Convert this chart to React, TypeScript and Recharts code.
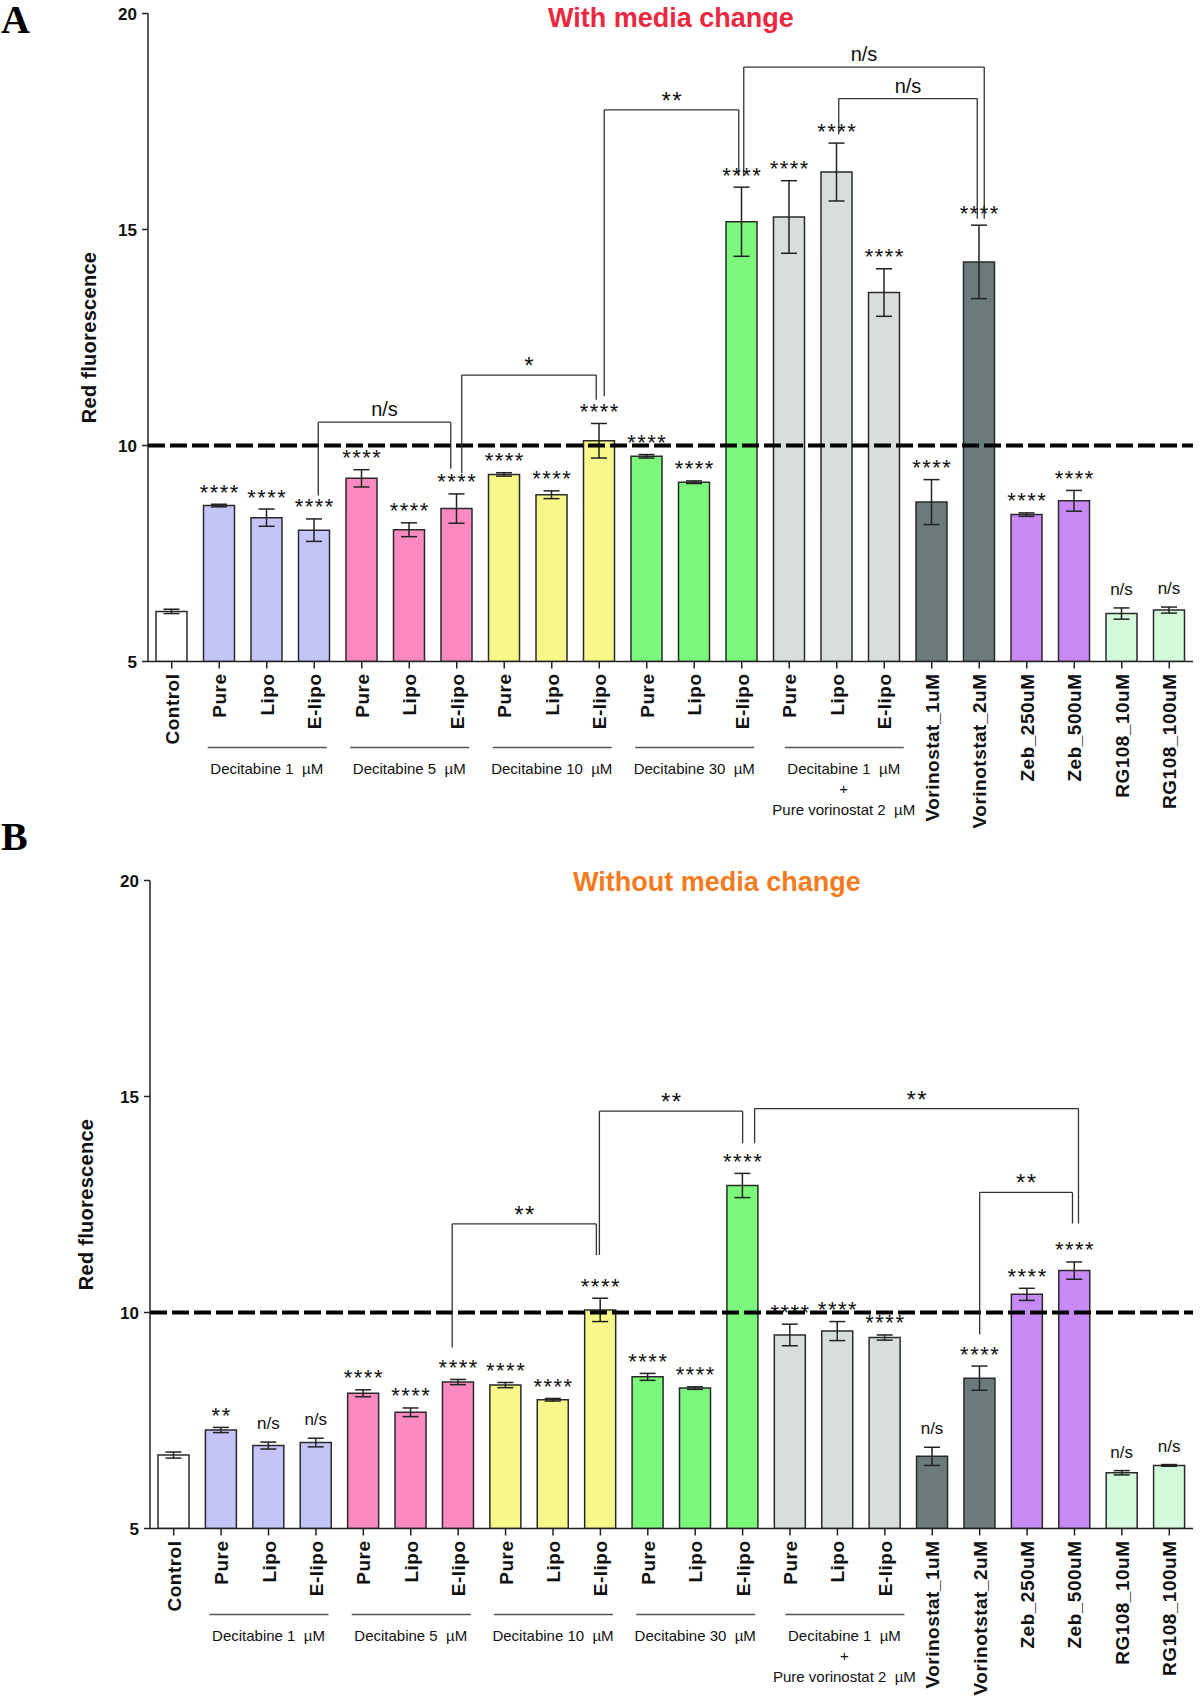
import React from 'react';
import { ComposedChart, Bar, Cell, ErrorBar, XAxis, YAxis, ReferenceLine, LabelList, Label } from 'recharts';

const FONT = "'Liberation Sans', Arial, Helvetica, sans-serif";

// x categories (22 bars)
const CATEGORIES = [
  'Control',
  'Pure', 'Lipo', 'E-lipo',
  'Pure', 'Lipo', 'E-lipo',
  'Pure', 'Lipo', 'E-lipo',
  'Pure', 'Lipo', 'E-lipo',
  'Pure', 'Lipo', 'E-lipo',
  'Vorinostat_1uM', 'Vorinotstat_2uM', 'Zeb_250uM', 'Zeb_500uM', 'RG108_10uM', 'RG108_100uM',
];
const KEYS = CATEGORIES.map((_, i) => `b${i}`);

const BAR_COLORS = [
  '#ffffff',
  '#c4c4f8', '#c4c4f8', '#c4c4f8',
  '#fa8abf', '#fa8abf', '#fa8abf',
  '#f8f88a', '#f8f88a', '#f8f88a',
  '#7cf97c', '#7cf97c', '#7cf97c',
  '#d7dedd', '#d7dedd', '#d7dedd',
  '#6b7b7b', '#6b7b7b',
  '#c78af4', '#c78af4',
  '#d4fadc', '#d4fadc',
];

// group captions under the axis (mid = index of the middle bar)
const GROUP_MIDS = [2, 5, 8, 11, 14];
const GROUP_LINES = [
  ['Decitabine 1 \u00a0\u00b5M'],
  ['Decitabine 5 \u00a0\u00b5M'],
  ['Decitabine 10 \u00a0\u00b5M'],
  ['Decitabine 30 \u00a0\u00b5M'],
  ['Decitabine 1 \u00a0\u00b5M', '+', 'Pure vorinostat 2 \u00a0\u00b5M'],
];
const GROUP_DX = [0, 0, 0, 0, 7];

// Panel A - with media change
const VALUES_A = [6.16, 8.61, 8.33, 8.04, 9.24, 8.05, 8.54, 9.33, 8.86, 10.11, 9.75, 9.15, 15.18, 15.29, 16.33, 13.54, 8.69, 14.25, 8.4, 8.72, 6.11, 6.19];
const ERRORS_A = [0.05, 0.03, 0.2, 0.26, 0.2, 0.16, 0.34, 0.04, 0.09, 0.4, 0.04, 0.03, 0.8, 0.84, 0.67, 0.55, 0.52, 0.85, 0.04, 0.24, 0.13, 0.07];
const SIG_A = ['', '****', '****', '****', '****', '****', '****', '****', '****', '****', '****', '****', '****', '****', '****', '****', '****', '****', '****', '****', 'n/s', 'n/s'];

// Panel B - without media change
const VALUES_B = [6.7, 7.28, 6.92, 6.99, 8.13, 7.69, 8.39, 8.32, 7.98, 10.06, 8.51, 8.25, 12.94, 9.48, 9.57, 9.42, 6.67, 8.48, 10.42, 10.97, 6.29, 6.46];
const ERRORS_B = [0.07, 0.06, 0.08, 0.1, 0.08, 0.1, 0.06, 0.06, 0.03, 0.27, 0.08, 0.03, 0.28, 0.25, 0.22, 0.06, 0.21, 0.28, 0.14, 0.2, 0.05, 0.02];
const SIG_B = ['', '**', 'n/s', 'n/s', '****', '****', '****', '****', '****', '****', '****', '****', '****', '****', '****', '****', 'n/s', '****', '****', '****', 'n/s', 'n/s'];

// comparison brackets: from/to bar index, top value, leg end values, pixel nudges
const BRACKETS_A = [
  { from: 3, to: 6, top: 10.54, fromEnd: 8.84, toEnd: 9.46, fromDx: 4, toDx: -6, text: 'n/s' },
  { from: 6, to: 9, top: 11.63, fromEnd: 9.36, toEnd: 11.06, fromDx: 5, toDx: -3, text: '*' },
  { from: 9, to: 12, top: 17.77, fromEnd: 11.14, toEnd: 16.25, fromDx: 5, toDx: -3, text: '**' },
  { from: 12, to: 17, top: 18.76, fromEnd: 16.23, toEnd: 15.25, fromDx: 2, toDx: 5, text: 'n/s' },
  { from: 14, to: 17, top: 18.03, fromEnd: 17.2, toEnd: 15.25, fromDx: 2, toDx: -2, text: 'n/s' },
];
const BRACKETS_B = [
  { from: 6, to: 9, top: 12.05, fromEnd: 9.19, toEnd: 11.33, fromDx: -6, toDx: -4, text: '**' },
  { from: 9, to: 12, top: 14.66, fromEnd: 11.33, toEnd: 13.92, fromDx: -1, toDx: 0, text: '**' },
  { from: 12, to: 19, top: 14.72, fromEnd: 13.92, toEnd: 12.06, fromDx: 12, toDx: 4, text: '**' },
  { from: 17, to: 19, top: 12.78, fromEnd: 9.49, toEnd: 12.06, fromDx: 0, toDx: -2, text: '**' },
];

const PLOT_H = 648;

function CategoryTick(props: any) {
  const { x, y, payload } = props;
  const i = KEYS.indexOf(payload.value);
  const g = GROUP_MIDS.indexOf(i);
  return (
    <g>
      <text
        transform={`translate(${x + 7},${y + 3}) rotate(-90)`}
        textAnchor="end"
        fontSize={19}
        fontWeight="bold"
        fontFamily={FONT}
        fill="#111"
        style={{ letterSpacing: 0.5 }}
      >
        {CATEGORIES[i]}
      </text>
      {g >= 0 && (
        <g>
          <line x1={x - 59 + GROUP_DX[g]} x2={x + 60 + GROUP_DX[g]} y1={y + 77} y2={y + 77} stroke="#555" strokeWidth={1.6} />
          {GROUP_LINES[g].map((t, k) => (
            <text
              key={k}
              x={x + GROUP_DX[g]}
              y={y + 103 + k * 20.5}
              textAnchor="middle"
              fontSize={15}
              fontFamily={FONT}
              fill="#111"
            >
              {t}
            </text>
          ))}
        </g>
      )}
    </g>
  );
}

function makeSigLabel(values: number[], errors: number[], sig: string[]) {
  return (props: any) => {
    const vb = props.viewBox ?? props;
    const i = KEYS.indexOf(props.value);
    if (i < 0 || !sig[i]) return null;
    const h = Math.abs(vb.height);
    const perUnit = h / (values[i] - 5);
    const errTop = vb.y - errors[i] * perUnit;
    const cx = vb.x + vb.width / 2;
    const stars = sig[i].startsWith('*');
    return (
      <text
        x={stars ? cx + 0.75 : cx}
        y={stars ? errTop - 4.5 : errTop - 13}
        textAnchor="middle"
        fontSize={stars ? 22 : 17}
        fontFamily={FONT}
        fill="#111"
        style={stars ? { letterSpacing: 1.5 } : undefined}
      >
        {sig[i]}
      </text>
    );
  };
}

function bracketShape(dx1: number, dx2: number, text?: string) {
  return (p: any) => {
    const x1 = p.x1 + dx1;
    const x2 = p.x2 + dx2;
    const stars = text ? text.startsWith('*') : false;
    return (
      <g>
        <line x1={x1} y1={p.y1} x2={x2} y2={p.y2} stroke="#333" strokeWidth={1.3} />
        {text && (
          <text
            x={(x1 + x2) / 2 + (stars ? 0.75 : 0)}
            y={stars ? p.y1 - 1 : p.y1 - 6}
            textAnchor="middle"
            fontSize={stars ? 24 : 20}
            fontFamily={FONT}
            fill="#111"
            style={stars ? { letterSpacing: 1.5 } : undefined}
          >
            {text}
          </text>
        )}
      </g>
    );
  };
}

interface PanelProps {
  top: number;
  height: number;
  plotTop: number;
  axisLeft: number;
  labelX: number;
  values: number[];
  errors: number[];
  sig: string[];
  brackets: typeof BRACKETS_A;
}

function Panel({ top, height, plotTop, axisLeft, labelX, values, errors, sig, brackets }: PanelProps) {
  const data = KEYS.map((key, i) => ({ key, value: values[i], err: errors[i] }));
  return (
    <div style={{ position: 'absolute', left: 0, top, width: 1200, height }}>
      <ComposedChart
        width={1200}
        height={height}
        data={data}
        margin={{ top: plotTop, right: 7, left: 0, bottom: 0 }}
      >
        <XAxis
          dataKey="key"
          interval={0}
          height={height - plotTop - PLOT_H}
          tick={<CategoryTick />}
          tickSize={7}
          tickMargin={2}
          axisLine={{ stroke: '#222', strokeWidth: 1.5 }}
          tickLine={{ stroke: '#222', strokeWidth: 1.5 }}
        />
        <YAxis
          type="number"
          domain={[5, 20]}
          ticks={[5, 10, 15, 20]}
          allowDataOverflow
          width={axisLeft}
          tickSize={6}
          tickMargin={5}
          axisLine={{ stroke: '#222', strokeWidth: 1.5 }}
          tickLine={{ stroke: '#222', strokeWidth: 1.5 }}
          tick={{ fill: '#111', fontSize: 17, fontWeight: 'bold', fontFamily: FONT }}
        >
          <Label
            content={(p: any) => {
              const vb = p.viewBox ?? {};
              const cy = vb.y != null ? vb.y + vb.height / 2 : plotTop + PLOT_H / 2;
              return (
                <text
                  transform={`translate(${labelX},${cy}) rotate(-90)`}
                  textAnchor="middle"
                  fontSize={20}
                  fontWeight="bold"
                  fontFamily={FONT}
                  fill="#111"
                  style={{ letterSpacing: 0.3 }}
                >
                  Red fluorescence
                </text>
              );
            }}
          />
        </YAxis>
        <Bar dataKey="value" barSize={31} stroke="#2a2a2a" strokeWidth={1.5} isAnimationActive={false}>
          {data.map((d, i) => (
            <Cell key={d.key} fill={BAR_COLORS[i]} />
          ))}
          <ErrorBar dataKey="err" width={8} stroke="#222" strokeWidth={1.5} />
          <LabelList dataKey="key" content={makeSigLabel(values, errors, sig)} />
        </Bar>
        <ReferenceLine y={10} stroke="#000" strokeWidth={4} strokeDasharray="17 5" />
        {brackets.flatMap((b, n) => [
          <ReferenceLine
            key={`l${n}`}
            segment={[{ x: KEYS[b.from], y: b.top }, { x: KEYS[b.from], y: b.fromEnd }]}
            shape={bracketShape(b.fromDx, b.fromDx)}
          />,
          <ReferenceLine
            key={`t${n}`}
            segment={[{ x: KEYS[b.from], y: b.top }, { x: KEYS[b.to], y: b.top }]}
            shape={bracketShape(b.fromDx, b.toDx, b.text)}
          />,
          <ReferenceLine
            key={`r${n}`}
            segment={[{ x: KEYS[b.to], y: b.top }, { x: KEYS[b.to], y: b.toEnd }]}
            shape={bracketShape(b.toDx, b.toDx)}
          />,
        ])}
      </ComposedChart>
    </div>
  );
}

export default function App() {
  return (
    <div style={{ position: 'absolute', left: 0, top: 0, width: 1200, height: 1698, background: '#fff', fontFamily: FONT }}>
      <div style={{ position: 'absolute', left: 1, top: 0, fontFamily: "'Liberation Serif', 'Times New Roman', serif", fontWeight: 'bold', fontSize: 40, lineHeight: 1 }}>A</div>
      <div style={{ position: 'absolute', left: 1, top: 817, fontFamily: "'Liberation Serif', 'Times New Roman', serif", fontWeight: 'bold', fontSize: 40, lineHeight: 1 }}>B</div>

      <Panel
        top={0}
        height={840}
        plotTop={13.5}
        axisLeft={148}
        labelX={96}
        values={VALUES_A}
        errors={ERRORS_A}
        sig={SIG_A}
        brackets={BRACKETS_A}
      />
      <Panel
        top={840}
        height={858}
        plotTop={40.5}
        axisLeft={150}
        labelX={93}
        values={VALUES_B}
        errors={ERRORS_B}
        sig={SIG_B}
        brackets={BRACKETS_B}
      />

      <div style={{ position: 'absolute', left: 548, top: 4.5, fontSize: 27, fontWeight: 'bold', color: '#ec2840', lineHeight: 1, whiteSpace: 'nowrap' }}>
        With media change
      </div>
      <div style={{ position: 'absolute', left: 573, top: 868.5, fontSize: 27, fontWeight: 'bold', color: '#f47b20', lineHeight: 1, whiteSpace: 'nowrap' }}>
        Without media change
      </div>
    </div>
  );
}
